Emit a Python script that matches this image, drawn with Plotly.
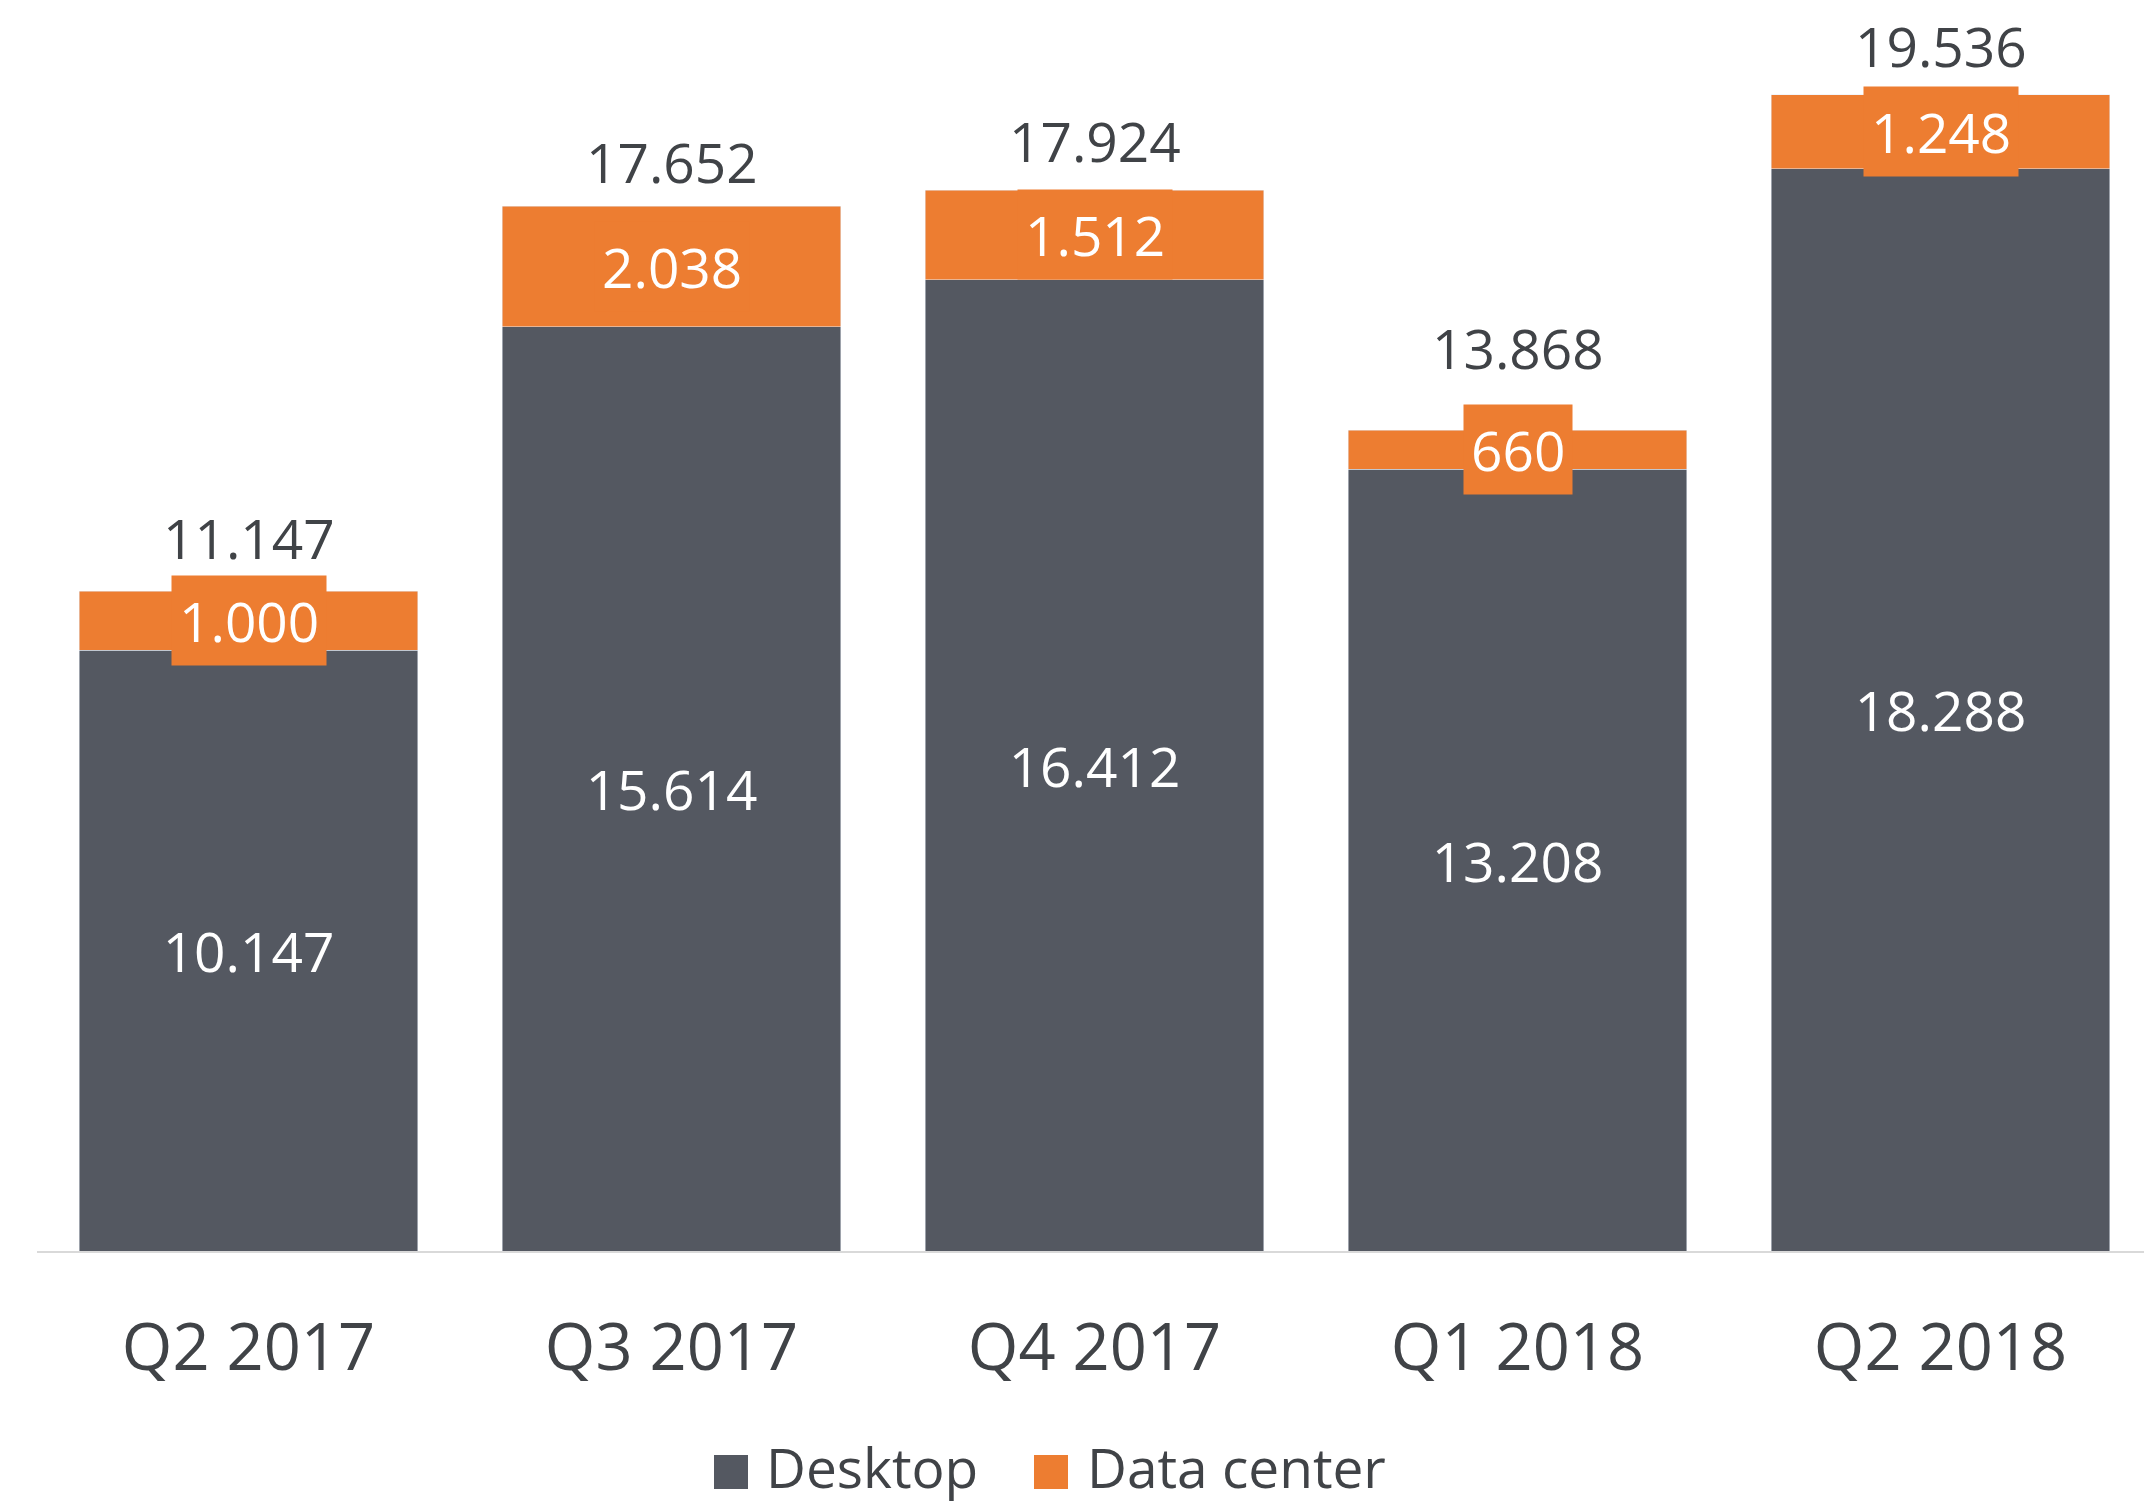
"""Stacked revenue bars: Desktop vs Data center per quarter."""

import plotly.graph_objects as go

QUARTERS = ["Q2 2017", "Q3 2017", "Q4 2017", "Q1 2018", "Q2 2018"]
DESKTOP = [10147, 15614, 16412, 13208, 18288]
DATA_CENTER = [1000, 2038, 1512, 660, 1248]
SERIES = ["Desktop", "Data center"]

DESKTOP_COLOR = "#545861"
DC_COLOR = "#ED7D31"
TEXT_COLOR = "#404347"
FONT = "Open Sans"

# px that each total label sits above its bar (the source nudges them
# around the boxed data center labels)
TOTAL_LABEL_LIFT = [54, 45, 50, 83, 49]


def _fmt(v):
    # thousands with a dot, as in the source
    return f"{v:,}".replace(",", ".")


fig = go.Figure()

fig.add_trace(go.Bar(
    x=QUARTERS,
    y=DESKTOP,
    name=SERIES[0],
    marker_color=DESKTOP_COLOR,
    texttemplate="%{y:,.0f}",
    textposition="inside",
    insidetextanchor="middle",
    textangle=0,
    textfont=dict(size=55, color="white", family=FONT),
    showlegend=False,
))
fig.add_trace(go.Bar(
    x=QUARTERS,
    y=DATA_CENTER,
    name=SERIES[1],
    marker_color=DC_COLOR,
    showlegend=False,
))

annotations = []
for q, d, c, lift in zip(QUARTERS, DESKTOP, DATA_CENTER, TOTAL_LABEL_LIFT):
    # data center value, boxed so it stays legible on thin segments
    annotations.append(dict(
        x=q, y=d + c / 2, xref="x", yref="y",
        text=_fmt(c), showarrow=False,
        font=dict(size=55, color="white", family=FONT),
        bgcolor=DC_COLOR, borderpad=7,
        yanchor="middle",
    ))
    # total on top
    annotations.append(dict(
        x=q, y=d + c, xref="x", yref="y",
        text=_fmt(d + c), showarrow=False,
        font=dict(size=55, color=TEXT_COLOR, family=FONT),
        borderpad=0, borderwidth=0,
        yanchor="middle", yshift=lift,
    ))

# legend: big square swatches + labels under the axis
legend_items = [
    (SERIES[0], DESKTOP_COLOR, 0.3281, 0.3447),
    (SERIES[1], DC_COLOR, 0.4792, 0.4965),
]
for name, color, sx, tx in legend_items:
    annotations.append(dict(
        x=sx, y=-0.1778, xref="paper", yref="paper",
        text=" ", showarrow=False,
        width=34, height=34, borderpad=0, borderwidth=0,
        bgcolor=color, font=dict(size=10),
        xanchor="center", yanchor="middle",
    ))
    annotations.append(dict(
        x=tx, y=-0.1735, xref="paper", yref="paper",
        text=name, showarrow=False,
        font=dict(size=55, color=TEXT_COLOR, family=FONT),
        borderpad=0, borderwidth=0,
        xanchor="left", yanchor="middle",
    ))

fig.update_layout(
    width=2144,
    height=1495,
    margin=dict(l=29, r=0, t=0, b=252),
    paper_bgcolor="white",
    plot_bgcolor="white",
    barmode="stack",
    bargap=0.2,
    separators=",.",
    font=dict(family=FONT, color=TEXT_COLOR),
    annotations=annotations,
    showlegend=False,
    xaxis=dict(
        showline=True,
        linecolor="#D9D9D9",
        linewidth=2,
        ticks="outside",
        ticklen=39,
        tickcolor="rgba(0,0,0,0)",
        tickfont=dict(size=65, color=TEXT_COLOR, family=FONT),
        showgrid=False,
    ),
    yaxis=dict(
        range=[0, 21000],
        visible=False,
        showgrid=False,
        zeroline=False,
    ),
)

fig.write_html("out.html")
